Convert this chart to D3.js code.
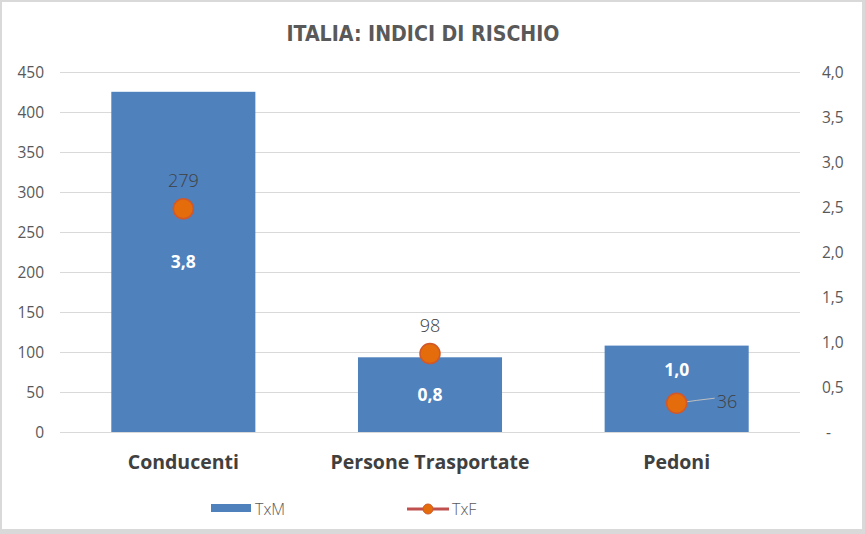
<!DOCTYPE html>
<html><head><meta charset="utf-8">
<script src="https://cdn.jsdelivr.net/npm/d3@7"></script>
<style>body{margin:0;background:#fff}svg{display:block}</style>
</head><body>
<svg id="c" width="865" height="534"></svg>
<script>
const categories = ["Conducenti", "Persone Trasportate", "Pedoni"];
const txm = [3.78, 0.83, 0.96];
const txf = [279, 98, 36];
const leftTicks = [0, 50, 100, 150, 200, 250, 300, 350, 400, 450];
const rightTicks = [0, 0.5, 1.0, 1.5, 2.0, 2.5, 3.0, 3.5, 4.0];
const title = "ITALIA: INDICI DI RISCHIO";
const seriesNames = ["TxM", "TxF"];

const svg = d3.select("#c");
const W = 865, H = 534;
svg.append("rect").attr("width", W).attr("height", H).attr("fill", "#d9d9d9");
svg.append("rect").attr("x", 2).attr("y", 2).attr("width", 860).attr("height", 527).attr("fill", "#fff");

const m = {l: 60, r: 800, t: 72, b: 432};
const x = d3.scaleBand().domain(categories).range([m.l, m.r]).paddingInner(0.416).paddingOuter(0.208);
const yL = d3.scaleLinear().domain([0, 450]).range([m.b, m.t]);
const yR = d3.scaleLinear().domain([0, 4]).range([m.b, m.t]);

const fmtIt = v => (Math.round(v * 10) / 10).toFixed(1).replace(".", ",");
const axisFont = "'Open Sans', 'Liberation Sans', sans-serif";

// gridlines
svg.append("g").selectAll("line").data(leftTicks).join("line")
  .attr("x1", m.l).attr("x2", m.r)
  .attr("y1", d => Math.round(yL(d)) + 0.5).attr("y2", d => Math.round(yL(d)) + 0.5)
  .attr("stroke", "#d9d9d9").attr("stroke-width", 1);

// left axis
const la = svg.append("g").attr("transform", `translate(${m.l - 16},0)`)
  .call(d3.axisLeft(yL).tickValues(leftTicks).tickSize(0).tickPadding(0).tickFormat(d3.format("d")));
la.select(".domain").remove();
la.selectAll("text").attr("font-family", axisFont).attr("font-size", 15.5).attr("fill", "#595959").attr("dy", "0.35em");

// right axis
const ra = svg.append("g").attr("transform", `translate(${m.r + 22},0)`)
  .call(d3.axisRight(yR).tickValues(rightTicks).tickSize(0).tickPadding(0).tickFormat(d => d === 0 ? "-" : fmtIt(d)));
ra.select(".domain").remove();
ra.selectAll("text").attr("font-family", axisFont).attr("font-size", 15.5).attr("fill", "#595959").attr("dy", "0.35em");
ra.selectAll(".tick").filter(d => d === 0).select("text").attr("dx", 4);

// bars (TxM, secondary axis)
svg.append("g").selectAll("rect").data(categories).join("rect")
  .attr("x", d => x(d)).attr("width", x.bandwidth())
  .attr("y", (d, i) => yR(txm[i])).attr("height", (d, i) => yR(0) - yR(txm[i]))
  .attr("fill", "#4f81bd");

const cx = d => x(d) + x.bandwidth() / 2;

// bar labels (last one lifted to avoid the marker, as in the original)
svg.append("g").selectAll("text").data(categories).join("text")
  .attr("x", cx)
  .attr("y", (d, i) => (yR(txm[i]) + yR(0)) / 2 + 6 - (i === 2 ? 19 : 0))
  .attr("text-anchor", "middle").attr("font-family", "'Open Sans', sans-serif")
  .attr("font-weight", "bold").attr("font-size", 17.5).attr("fill", "#fff")
  .text((d, i) => fmtIt(txm[i]));

// leader line for Pedoni
svg.append("path")
  .attr("d", `M${cx(categories[2])},${yL(txf[2])} Q${cx(categories[2]) + 20},${yL(txf[2]) - 3} ${cx(categories[2]) + 38},${yL(txf[2]) - 5}`)
  .attr("fill", "none").attr("stroke", "#bfbfbf").attr("stroke-width", 1);
// points TxF
svg.append("g").selectAll("circle").data(categories).join("circle")
  .attr("cx", cx).attr("cy", (d, i) => yL(txf[i])).attr("r", 10)
  .attr("fill", "#e46c0a").attr("stroke", "#d0582a").attr("stroke-width", 1.5);

svg.append("g").selectAll("text").data(categories).join("text")
  .attr("x", (d, i) => i === 2 ? cx(d) + 40 : cx(d))
  .attr("y", (d, i) => i === 2 ? yL(txf[i]) + 5 : yL(txf[i]) - 22)
  .attr("text-anchor", (d, i) => i === 2 ? "start" : "middle")
  .attr("font-family", "'Open Sans', 'Liberation Sans', sans-serif").attr("font-weight", 300)
  .attr("font-size", 18).attr("fill", "#404040")
  .text((d, i) => txf[i]);

// category labels
svg.append("g").selectAll("text").data(categories).join("text")
  .attr("x", cx).attr("y", 469).attr("text-anchor", "middle")
  .attr("font-family", "'Open Sans', sans-serif").attr("font-weight", "bold")
  .attr("font-size", 19.5).attr("fill", "#404040").text(d => d);

// title
svg.append("text").attr("x", 423).attr("y", 41).attr("text-anchor", "middle")
  .attr("font-family", "'DejaVu Sans Condensed', 'Open Sans', sans-serif").attr("font-weight", "bold")
  .attr("font-size", 21).attr("fill", "#595959")
  .attr("textLength", 273).attr("lengthAdjust", "spacingAndGlyphs").text(title);

// legend
const lg = svg.append("g");
lg.append("rect").attr("x", 211).attr("y", 504).attr("width", 40).attr("height", 8).attr("fill", "#4f81bd");
lg.append("text").attr("x", 255).attr("y", 515).attr("font-family", "'Open Sans', sans-serif").attr("font-weight", 300)
  .attr("font-size", 16).attr("fill", "#595959").text(seriesNames[0]);
lg.append("line").attr("x1", 407).attr("x2", 449).attr("y1", 509).attr("y2", 509).attr("stroke", "#c0504d").attr("stroke-width", 3);
lg.append("circle").attr("cx", 428).attr("cy", 509).attr("r", 5).attr("fill", "#e46c0a").attr("stroke", "#d0582a");
lg.append("text").attr("x", 452).attr("y", 515).attr("font-family", "'Open Sans', sans-serif").attr("font-weight", 300)
  .attr("font-size", 16).attr("fill", "#595959").text(seriesNames[1]);
</script>
</body></html>
